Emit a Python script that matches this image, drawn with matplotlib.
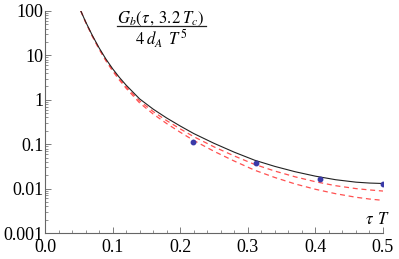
import matplotlib
matplotlib.use("Agg")
import matplotlib.pyplot as plt
from matplotlib.ticker import MultipleLocator, LogLocator, NullFormatter, FixedLocator
from matplotlib.lines import Line2D
import numpy as np

# ---- data ----
tau = [0.053, 0.06, 0.07, 0.08, 0.09, 0.10, 0.11, 0.12, 0.14, 0.16, 0.18, 0.20,
       0.22, 0.25, 0.28, 0.31, 0.34, 0.37, 0.40, 0.43, 0.46, 0.48, 0.50]
log_black = [2.00, 1.76, 1.45, 1.17, 0.92, 0.70, 0.505, 0.33, 0.02, -0.21, -0.41, -0.59,
             -0.76, -0.98, -1.18, -1.36, -1.50, -1.62, -1.72, -1.80, -1.855, -1.875, -1.885]
log_red1 = [2.00, 1.755, 1.44, 1.155, 0.90, 0.675, 0.475, 0.295, -0.025, -0.265, -0.47, -0.655,
            -0.83, -1.06, -1.265, -1.455, -1.605, -1.735, -1.845, -1.935, -2.0, -2.03, -2.055]
log_red2 = [2.00, 1.75, 1.43, 1.14, 0.88, 0.65, 0.445, 0.26, -0.07, -0.32, -0.535, -0.73,
            -0.915, -1.16, -1.38, -1.585, -1.75, -1.895, -2.015, -2.115, -2.195, -2.235, -2.265]
pts_tau = [0.21875, 0.3125, 0.40625, 0.5]
pts_val = [0.114, 0.0375, 0.0162, 0.0127]

xticks = [0.0, 0.1, 0.2, 0.3, 0.4, 0.5]
xticklabels = ["0.0", "0.1", "0.2", "0.3", "0.4", "0.5"]
yticks = [0.001, 0.01, 0.1, 1, 10, 100]
yticklabels = ["0.001", "0.01", "0.1", "1", "10", "100"]

W, H = 399, 259
fig = plt.figure(figsize=(W / 100, H / 100), dpi=100)
ax = fig.add_axes([45 / W, 1 - 233 / H, (383 - 45) / W, (233 - 11) / H])

black = 10 ** np.array(log_black)
red1 = 10 ** np.array(log_red1)
red2 = 10 ** np.array(log_red2)

ax.plot(tau, red1, color="#ff5050", lw=0.9, dashes=(4, 3))
ax.plot(tau, red2, color="#ff5050", lw=0.9, dashes=(4, 3))
ax.plot(tau, black, color="#222222", lw=0.8)
ax.plot(pts_tau, pts_val, ls="none", marker="o", ms=3.2, color="#3a3aa8")

ax.set_yscale("log")
ax.set_xlim(0, 0.5)
ax.set_ylim(0.001, 100)

for s in ["top", "right"]:
    ax.spines[s].set_visible(False)
for s in ["left", "bottom"]:
    ax.spines[s].set_color("#666666")
    ax.spines[s].set_linewidth(0.8)

serif = "Liberation Serif"
ax.set_xticks(xticks)
ax.set_xticklabels(xticklabels, fontfamily=serif, fontsize=13)
ax.xaxis.set_minor_locator(MultipleLocator(0.02))
ax.yaxis.set_major_locator(FixedLocator(yticks))
ax.set_yticklabels(yticklabels, fontfamily=serif, fontsize=13)
ax.yaxis.set_minor_locator(LogLocator(base=10, subs=np.arange(2, 10)))
ax.yaxis.set_minor_formatter(NullFormatter())
ax.tick_params(which="major", direction="in", length=4, width=0.6, color="#666666")
ax.tick_params(which="minor", direction="in", length=2, width=0.5, color="#666666")
ax.tick_params(axis="x", pad=4)
ax.tick_params(axis="y", pad=1)

# fraction label
plt.rcParams["mathtext.fontset"] = "stix"
fig.text(161 / W, 1 - 19 / H, r"$G_b(\tau\,,\,3.2\;T_c)$", ha="center", va="center", fontsize=12)
fig.add_artist(Line2D([117 / W, 206 / W], [1 - 26 / H, 1 - 26 / H], color="#222222", lw=0.9))
fig.text(161 / W, 1 - 39 / H, r"$4\;d_A\;\,T^{\,5}$", ha="center", va="center", fontsize=12)

fig.text(377 / W, 1 - 219 / H, r"$\tau\;\,T$", ha="center", va="center", fontsize=12)

fig.savefig("out.png", dpi=100)
